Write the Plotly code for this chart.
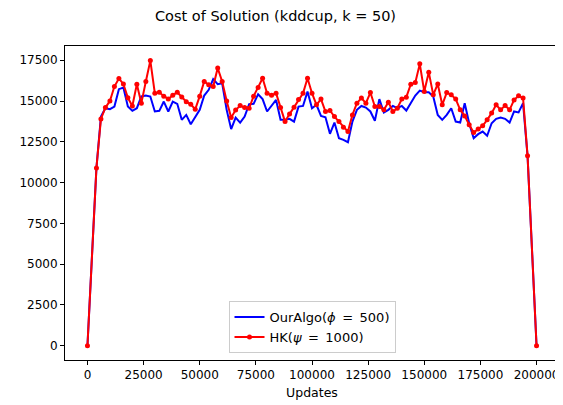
import plotly.graph_objs as go

# checkpoints (number of updates)
updates = [0] + list(range(4000, 198000, 2000)) + [200000]

# OurAlgo(phi = 500)
our_algo = [
    0, 10900, 14050, 14560, 14500, 14660, 15730, 15830, 14660, 14400,
    14560, 15280, 15340, 15280, 14360, 14400, 14970, 14360, 14970, 14830,
    13850, 14150, 13580, 13990, 14460, 15340, 15690, 16340, 16030, 16090,
    14460, 13280, 13990, 13680, 14050, 14810, 14830, 15420, 15120, 14360,
    14700, 15070, 13850, 13850, 13910, 13740, 14660, 14700, 15580, 14560,
    14770, 14090, 14010, 12990, 13680, 12720, 12620, 12480, 13740, 14460,
    14700, 14600, 14360, 13790, 15120, 14300, 14460, 14700, 14560, 14700,
    14420, 14910, 15340, 15640, 15540, 15540, 15280, 14150, 13850, 14150,
    14560, 13740, 13680, 14870, 13640, 12720, 12970, 13130, 12870, 13640,
    13910, 13990, 13910, 13680, 14360, 14300, 14870, 11640, 0,
]

# HK(psi = 1000)
hk = [
    0, 10900, 13900, 14600, 15000, 15890, 16380, 16050, 15200, 14700,
    16030, 14870, 16200, 17480, 15480, 15540, 15300, 15130, 15350, 15540,
    15250, 14960, 14800, 14500, 15300, 16200, 16000, 15890, 17020, 16200,
    15000, 13990, 14450, 14720, 14600, 14560, 15300, 15830, 16400, 15480,
    15350, 15480, 14600, 13740, 14200, 14620, 15100, 15480, 16400, 15480,
    14770, 15120, 14360, 14420, 14050, 13740, 13400, 13130, 14150, 14870,
    15180, 14870, 15520, 14660, 14660, 14460, 14930, 14360, 14560, 15120,
    15240, 16030, 16130, 17280, 15580, 16770, 15380, 16050, 14770, 15520,
    15380, 15120, 14460, 14090, 13540, 13070, 13280, 13480, 13850, 14260,
    14770, 14460, 14720, 14460, 15070, 15320, 15180, 11640, 0,
]

x_ticks = list(range(0, 200001, 25000))
y_ticks = list(range(0, 17501, 2500))

font = dict(family='DejaVu Sans, Liberation Sans, sans-serif', color='#000000')

fig = go.Figure()
fig.add_trace(go.Scatter(
    x=updates, y=our_algo, mode='lines',
    name='OurAlgo(<i>ϕ</i>\u2002=\u2002500)',
    line=dict(color='#0000ff', width=2)
))
fig.add_trace(go.Scatter(
    x=updates, y=hk, mode='lines+markers',
    name='HK(<i>ψ</i>\u2002=\u20021000)',
    line=dict(color='#ff0000', width=2),
    marker=dict(color='#ff0000', size=5)
))

axis_style = dict(
    showgrid=False, zeroline=False, showline=True, mirror=True,
    linecolor='#000000', linewidth=1, ticks='outside', ticklen=4,
    tickcolor='#000000', tickfont=dict(size=12, **font), automargin=False
)

# the page puts an 8px body margin round the figure, so size it to fit
fig.update_layout(
    width=555, height=397,
    margin=dict(l=57, r=4, t=38, b=45),
    paper_bgcolor='white', plot_bgcolor='white',
    font=font,
    title=dict(text='Cost of Solution (kddcup, k = 50)', x=0.482, xanchor='center',
               y=0.98, yanchor='middle', font=dict(size=14.5, **font)),
    xaxis=dict(range=[-10000, 210000], tickvals=x_ticks,
               ticktext=[str(v) for v in x_ticks],
               title=dict(text='Updates', font=dict(size=12.5, **font), standoff=6),
               **axis_style),
    yaxis=dict(range=[-875, 18375], tickvals=y_ticks,
               ticktext=[str(v) for v in y_ticks], **axis_style),
    showlegend=True,
    legend=dict(x=0.5, xanchor='center', y=0.022, yanchor='bottom',
                bgcolor='rgba(255,255,255,0.8)', bordercolor='#cccccc', borderwidth=1,
                font=dict(size=13, **font), tracegroupgap=0),
)

fig.write_html("out.html")
